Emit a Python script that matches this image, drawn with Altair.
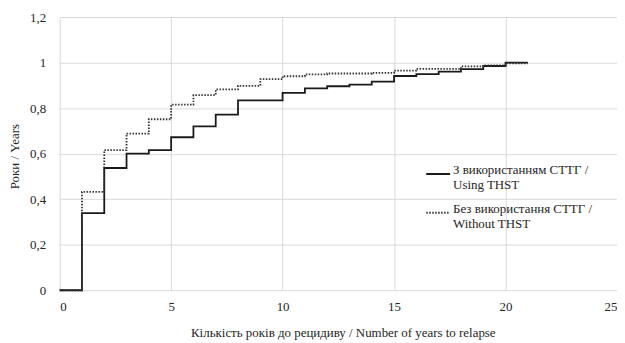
import altair as alt
import pandas as pd

years = list(range(0, 22))
using_thst = [0, 0.339, 0.537, 0.600, 0.615, 0.672, 0.720, 0.771, 0.834, 0.834,
              0.867, 0.887, 0.896, 0.903, 0.916, 0.941, 0.949, 0.960, 0.971, 0.985,
              1.0, 1.0]
without_thst = [0, 0.432, 0.615, 0.688, 0.751, 0.815, 0.857, 0.882, 0.898, 0.927,
                0.940, 0.948, 0.952, 0.952, 0.955, 0.965, 0.972, 0.972, 0.983, 0.988,
                0.997, 0.997]
series_names = ["З використанням СТТГ /|Using THST", "Без використання СТТГ /|Without THST"]

rows = []
for x, a, b in zip(years, using_thst, without_thst):
    rows.append({"x": x, "y": a, "s": series_names[0]})
    rows.append({"x": x, "y": b, "s": series_names[1]})
df = pd.DataFrame(rows)

FONT = "Liberation Serif"

legend_opts = dict(title=None, orient="none", legendX=368, legendY=145,
                   labelExpr="split(datum.label, '|')", symbolType="stroke",
                   symbolSize=576, symbolStrokeWidth=1.8, rowPadding=8,
                   labelBaseline="alphabetic", labelOffset=2, padding=0,
                   labelFont=FONT)

chart = alt.Chart(df).mark_line(interpolate="step-after", strokeWidth=1.8).encode(
    x=alt.X("x:Q", scale=alt.Scale(domain=[0, 25], nice=False),
            axis=alt.Axis(values=[0, 5, 10, 15, 20, 25], title="Кількість років до рецидиву / Number of years to relapse",
                          titleX=285, titleY=47, titleAnchor="start", titleAlign="center", titleBaseline="alphabetic",
                          labelPadding=10, labelBaseline="top", labelFont=FONT, titleFont=FONT)),
    y=alt.Y("y:Q", scale=alt.Scale(domain=[0, 1.2], nice=False),
            axis=alt.Axis(values=[0, 0.2, 0.4, 0.6, 0.8, 1.0, 1.2], title="Роки / Years",
                          labelExpr="replace(format(datum.value, '.1~f'), '.', ',')",
                          titleX=-41, titleY=140, titleAngle=-90, titleAlign="center", titleBaseline="alphabetic",
                          labelPadding=14, labelFont=FONT, titleFont=FONT)),
    color=alt.Color("s:N", scale=alt.Scale(domain=series_names, range=["#1a1a1a", "#333333"]),
                    legend=alt.Legend(**legend_opts)),
    strokeDash=alt.StrokeDash("s:N", scale=alt.Scale(domain=series_names, range=[[1, 0], [1.5, 1.5]]),
                              legend=alt.Legend(**legend_opts)),
).properties(
    width=561, height=275,
    autosize=alt.AutoSizeParams(type="none"),
    padding={"left": 52, "top": 8, "right": 0, "bottom": 52},
).configure(font=FONT).configure_view(stroke=None).configure_axis(
    labelFontSize=13, titleFontSize=13,
    labelColor="#262626", titleColor="#262626", titleFontWeight="normal",
    gridColor="#d9d9d9", gridWidth=1, domain=False, ticks=False,
).configure_legend(
    labelFontSize=13, labelColor="#262626", labelLimit=300,
)

chart.save("out.html", embed_options={"renderer": "svg", "actions": False})
